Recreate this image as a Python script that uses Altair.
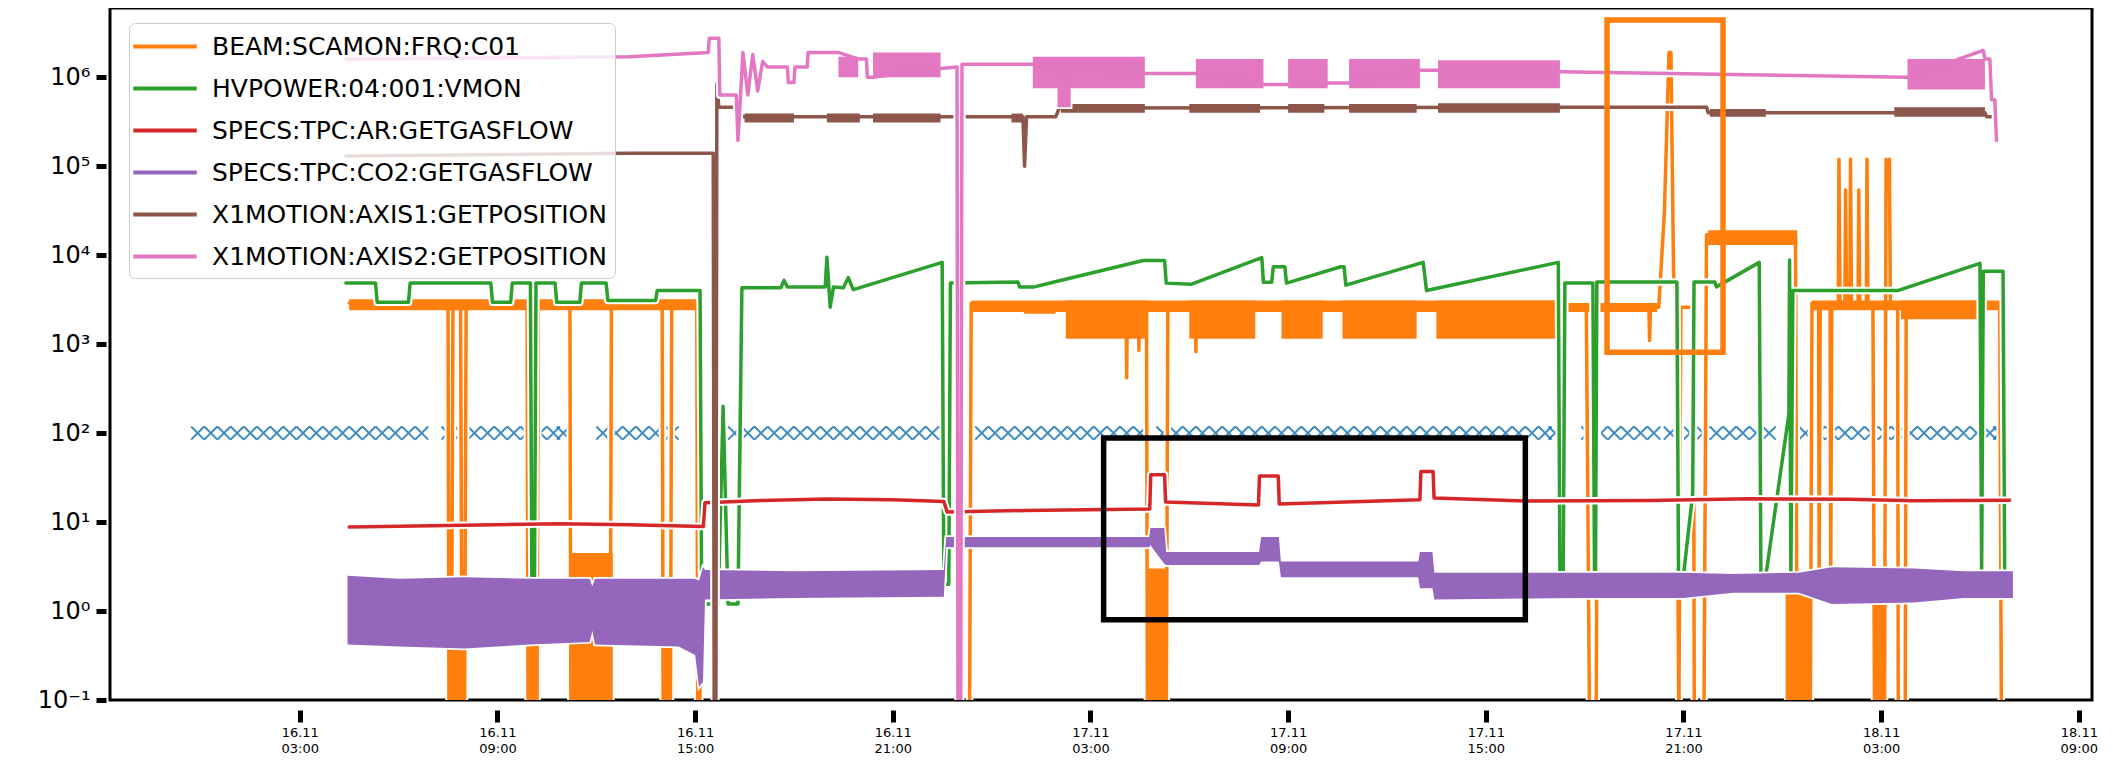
import json
import altair as alt
import pandas as pd

# ---------------- data (x = hours since 16.11 00:00, y = value) ----------------
SERIES = ["BEAM:SCAMON:FRQ:C01", "HVPOWER:04:001:VMON", "SPECS:TPC:AR:GETGASFLOW",
          "SPECS:TPC:CO2:GETGASFLOW", "X1MOTION:AXIS1:GETPOSITION", "X1MOTION:AXIS2:GETPOSITION"]
COLORS = ["#ff7f0e", "#2ca02c", "#d62728", "#9467bd", "#8c564b", "#e377c2"]

X_TICKS = [3, 9, 15, 21, 27, 33, 39, 45, 51, 57]
Y_TICKS = [0.1, 1, 10, 100, 1e3, 1e4, 1e5, 1e6]
Y_LABELS = ["10⁻¹", "10⁰", "10¹", "10²", "10³", "10⁴", "10⁵", "10⁶"]

MARKER_T = [-0.1, 0.3, 0.7, 1.1, 1.5, 1.9, 2.3, 2.7, 3.1, 3.5, 3.9, 4.3, 4.7, 5.1, 5.5, 5.9, 6.3, 6.7,
            7.5, 7.9, 8.3, 8.7, 9.1, 9.5, 9.9, 10.3, 10.7, 11.0,
            12.2, 12.6, 13.0, 13.4, 13.8, 14.3,
            16.2, 16.6, 17.0, 17.4, 17.8, 18.2, 18.6,
            19.0, 19.4, 19.8, 20.2, 20.6, 21.0, 21.4, 21.8, 22.2, 22.6,
            23.7, 24.1, 24.5, 24.9, 25.3, 25.7, 26.1, 26.5, 26.9, 27.3, 27.7, 28.1, 28.5,
            29.2, 29.6, 30.0, 30.4, 30.8, 31.2, 31.6, 32.0, 32.4, 32.8, 33.2, 33.6, 34.0, 34.4,
            34.8, 35.2, 35.6, 36.0, 36.4, 36.8, 37.2, 37.6, 38.0, 38.4, 38.8, 39.2, 39.6, 40.0,
            40.4, 40.8, 41.1,
            42.1, 42.5, 42.9, 43.3, 43.7, 44.1, 44.6,
            45.2, 45.6, 46.0, 46.4, 46.8, 47.2, 47.6,
            48.7, 49.1, 49.5, 49.9, 50.3, 50.7, 51.1, 51.5, 51.9, 52.3, 52.7, 53.1, 53.5, 53.9,
            54.3, 54.6]
MARKER_V = 100

ORANGE_A = [(4.5, 2900), (7.5, 2900), (7.53, 0.05), (7.6, 0.05), (7.65, 2900), (7.88, 2900),
            (7.93, 0.05), (8.0, 0.05), (8.05, 2900), (9.9, 2900), (9.93, 0.05), (10.2, 0.05),
            (10.24, 2900), (11.2, 2900), (11.23, 0.05), (12.42, 0.05), (12.46, 2900), (14.0, 2900),
            (14.03, 0.05), (14.25, 0.05), (14.29, 2900), (15.05, 2900), (15.08, 0.05), (15.2, 0.05)]
ORANGE_B = [(23.33, 0.05), (23.38, 2900), (25.0, 2900), (25.02, 2300), (25.9, 2300), (25.92, 2900),
            (28.08, 2900), (28.1, 420), (28.12, 2900), (28.45, 2900), (28.47, 850), (28.49, 2900),
            (28.7, 2900), (28.73, 0.05), (29.3, 0.05), (29.35, 2900), (30.18, 2900), (30.2, 820),
            (30.22, 2900), (41.1, 2900)]
ORANGE_C = [(41.5, 2700), (42.05, 2700), (42.15, 0.05), (42.35, 0.05), (42.4, 2600), (43.95, 2600),
            (43.97, 1100), (44.0, 2600), (44.25, 2600), (44.42, 3e4), (44.56, 1.9e6), (44.62, 1.9e6),
            (44.7, 6000), (44.78, 2600), (44.86, 0.05), (44.92, 2600), (45.3, 2600), (45.33, 0.05),
            (45.62, 0.05), (45.7, 1.7e4), (48.4, 1.7e4), (48.45, 0.05), (48.85, 0.05), (48.9, 2900),
            (49.1, 2900), (49.12, 2.5), (49.15, 2900), (49.45, 2900), (49.47, 2.5), (49.5, 2900),
            (49.7, 2900), (49.72, 1.2e5), (49.75, 2900), (49.9, 2900), (49.92, 5.4e4), (49.95, 2900),
            (50.05, 2900), (50.07, 1.2e5), (50.1, 2900), (50.3, 2900), (50.32, 5.4e4), (50.35, 2900),
            (50.55, 2900), (50.57, 1.2e5), (50.6, 2900), (50.75, 2900), (50.8, 0.05), (51.1, 0.05),
            (51.15, 1.2e5), (51.2, 5.4e4), (51.25, 1.2e5), (51.28, 2900), (51.5, 2900), (51.52, 0.05),
            (51.73, 0.05), (51.76, 2900), (54.6, 2900), (54.65, 0.05)]
ORANGE_BANDS = [(4.5, 15.05, 2400, 3200), (7.55, 7.95, 0.05, 0.5), (9.93, 10.2, 0.05, 0.5),
                (11.2, 12.5, 0.05, 4.5), (14.03, 14.25, 0.05, 0.5), (15.08, 15.2, 0.05, 0.3),
                (23.4, 41.1, 2300, 3100), (26.25, 28.75, 1150, 3100), (28.75, 29.32, 0.05, 3.0),
                (30.0, 32.0, 1150, 3100), (32.8, 34.05, 1150, 3100), (34.65, 36.9, 1150, 3100),
                (37.5, 41.1, 1150, 3100), (41.5, 44.2, 2300, 2900), (45.75, 48.45, 1.3e4, 1.9e4),
                (48.1, 48.9, 0.05, 2.5), (48.9, 54.6, 2400, 3100), (51.6, 53.9, 1900, 3100),
                (50.8, 51.15, 0.05, 2.5)]

GREEN = [(4.4, 4850), (5.3, 4850), (5.35, 2950), (6.3, 2950), (6.35, 4850), (8.8, 4850), (8.85, 2950),
         (9.4, 2950), (9.45, 4850), (10.0, 4850), (10.05, 1.0), (10.12, 1.0), (10.17, 4850),
         (10.75, 4850), (10.8, 2950), (11.5, 2950), (11.55, 4850), (12.3, 4850), (12.35, 3100),
         (13.8, 3100), (13.85, 4000), (15.15, 4000), (15.2, 1.2), (15.7, 1.2), (15.85, 200),
         (16.0, 1.2), (16.3, 1.2), (16.42, 4300), (17.6, 4300), (17.7, 5200), (17.8, 4400),
         (18.95, 4400), (19.0, 9500), (19.1, 2600), (19.2, 4400), (19.5, 4300), (19.65, 5600),
         (19.8, 4100), (22.5, 8300), (22.55, 2.0), (22.7, 2.0), (22.75, 4850), (24.8, 5000),
         (24.85, 4400), (25.3, 4400), (25.9, 5000), (28.6, 8700), (29.25, 8700), (29.3, 4850),
         (30.05, 4700), (32.2, 9400), (32.25, 4950), (32.5, 4950), (32.55, 7400), (32.9, 7400),
         (32.95, 4850), (34.6, 7400), (34.7, 7400), (34.75, 4600), (37.1, 8300), (37.2, 4000),
         (41.2, 8300), (41.25, 2.5), (41.35, 2.5), (41.4, 4850), (42.25, 4850), (42.3, 2.5),
         (42.33, 2.5), (42.37, 5000), (44.8, 5000), (44.85, 2.5), (45.0, 2.5), (45.28, 21),
         (45.32, 5000), (45.95, 5000), (46.0, 4400), (47.3, 8300), (47.35, 2.5), (47.5, 2.5),
         (48.2, 165), (48.22, 8800), (48.26, 2.5), (48.32, 4000), (51.5, 4000), (54.0, 8100),
         (54.05, 2.5), (54.1, 6600), (54.7, 6600), (54.75, 2.5)]

RED = [(4.5, 8.8), (7.0, 9.1), (10.9, 9.6), (13.0, 9.3), (15.25, 8.9), (15.3, 16.5), (17.0, 17.5),
       (19.0, 18.2), (21.0, 17.8), (22.55, 17.0), (22.65, 13.0), (25.0, 13.5), (28.8, 14.0),
       (28.83, 34), (29.25, 34), (29.28, 16.8), (32.1, 15.6), (32.13, 33), (32.7, 33), (32.73, 16.0),
       (37.0, 17.8), (37.03, 37), (37.4, 37), (37.43, 18.6), (40.2, 17.2), (44.0, 17.5),
       (47.0, 18.3), (50.0, 18.0), (52.0, 17.4), (54.9, 17.6)]

PURPLE_T = [4.45, 6.0, 8.0, 10.0, 11.8, 11.88, 11.96, 14.5, 15.0, 15.12, 15.24, 15.3, 18.0, 22.55,
            22.62, 28.78, 28.82, 29.24, 29.3, 32.12, 32.18, 32.72, 32.78, 36.95, 37.0, 37.38, 37.44,
            42.0, 45.0, 46.5, 48.5, 49.5, 52.0, 53.5, 55.0]
PURPLE_LO = [0.42, 0.40, 0.38, 0.42, 0.45, 0.6, 0.42, 0.40, 0.32, 0.14, 0.16, 1.35, 1.4, 1.45,
             5.2, 5.2, 5.5, 3.4, 3.3, 3.3, 3.6, 3.6, 2.4, 2.4, 1.8, 1.8, 1.35,
             1.4, 1.4, 1.6, 1.6, 1.2, 1.25, 1.4, 1.4]
PURPLE_HI = [2.5, 2.3, 2.4, 2.3, 2.3, 1.9, 2.3, 2.3, 2.3, 2.2, 3.1, 2.9, 2.8, 2.9,
             6.8, 6.8, 8.6, 8.6, 4.6, 4.6, 6.8, 6.8, 3.6, 3.6, 4.6, 4.6, 2.7,
             2.7, 2.7, 2.6, 2.7, 3.1, 3.0, 2.8, 2.8]

BROWN = [(4.4, 1.3e5), (13.0, 1.4e5), (15.55, 1.4e5), (15.58, 0.05), (15.63, 0.05), (15.66, 8.5e5),
         (15.72, 4.6e5), (16.25, 4.6e5), (16.45, 3.6e5), (24.95, 3.6e5), (25.0, 1.0e5), (25.06, 3.6e5),
         (25.95, 3.6e5), (26.05, 4.5e5), (41.25, 4.6e5), (45.7, 4.6e5), (45.75, 4.0e5), (54.15, 4.0e5),
         (54.2, 3.6e5), (54.35, 3.6e5)]
BROWN_BANDS = [(16.5, 18.0, 3.1e5, 3.9e5), (19.0, 20.0, 3.1e5, 3.9e5), (20.4, 22.45, 3.1e5, 3.9e5),
               (24.6, 24.95, 3.1e5, 3.9e5), (26.1, 28.65, 4.0e5, 5.0e5), (30.0, 32.15, 4.0e5, 5.0e5),
               (33.0, 34.1, 4.0e5, 5.0e5), (34.85, 36.9, 4.0e5, 5.0e5), (37.55, 41.25, 4.0e5, 5.1e5),
               (45.8, 47.5, 3.6e5, 4.4e5), (51.4, 54.15, 3.6e5, 4.6e5)]

PINK = [(4.4, 1.6e6), (13.0, 1.7e6), (15.4, 1.9e6), (15.43, 2.75e6), (15.72, 2.75e6), (15.75, 6.3e5),
        (16.25, 6.3e5), (16.3, 1.95e5), (16.38, 6.3e5), (16.45, 1.9e6), (16.6, 6.3e5), (16.75, 1.8e6),
        (16.9, 7e5), (17.05, 1.5e6), (17.2, 1.3e6), (17.8, 1.3e6), (17.83, 8.7e5), (18.0, 8.7e5),
        (18.03, 1.3e6), (18.4, 1.3e6), (18.43, 1.9e6), (19.35, 1.9e6), (19.95, 1.6e6), (20.2, 1.6e6),
        (20.23, 1.0e6), (20.4, 1.0e6), (22.45, 1.25e6), (22.95, 1.3e6), (22.98, 0.05), (23.06, 0.05),
        (23.1, 1.4e6), (25.25, 1.4e6), (28.65, 1.1e6), (30.2, 1.1e6), (32.25, 8.3e5), (33.0, 8.3e5),
        (34.2, 8.6e5), (34.85, 8.6e5), (37.0, 1.2e6), (37.55, 1.2e6), (41.25, 1.15e6), (51.8, 1.0e6),
        (54.1, 2.0e6), (54.15, 1.6e6), (54.3, 1.6e6), (54.35, 5.6e5), (54.45, 5.6e5), (54.5, 1.95e5)]
PINK_BANDS = [(19.35, 19.95, 1.0e6, 1.7e6), (20.4, 22.45, 1.0e6, 1.9e6), (25.25, 28.65, 7.5e5, 1.7e6),
              (26.0, 26.4, 4.6e5, 1.0e6), (30.2, 32.25, 7.5e5, 1.6e6), (33.0, 34.2, 7.5e5, 1.6e6),
              (34.85, 37.0, 7.5e5, 1.6e6), (37.55, 41.25, 7.5e5, 1.55e6), (51.8, 54.15, 7.3e5, 1.6e6)]

BOX_T0 = [27.4, 42.68]
BOX_T1 = [40.2, 46.2]
BOX_LO = [0.8, 810]
BOX_HI = [88, 4.4e6]
BOX_COLOR = ["black", "#ff7f0e"]

# ---------------- scales / axes ----------------
XSCALE = alt.Scale(domain=[-2.76, 57.4], nice=False, zero=False)
YSCALE = alt.Scale(type="log", domain=[0.1, 6e6], nice=False)
XLABEL_EXPR = ("[(16 + floor(datum.value / 24)) + '.11', "
               "(datum.value % 24 < 10 ? '0' : '') + (datum.value % 24) + ':00']")
YLABEL_EXPR = json.dumps(Y_LABELS, ensure_ascii=False) + "[round(log(datum.value) / LN10) + 1]"

XAXIS = alt.Axis(values=X_TICKS, labelExpr=XLABEL_EXPR, domain=False, grid=False, tickSize=12,
                 tickWidth=5, tickColor="black", offset=10, labelFont="DejaVu Sans",
                 labelFontSize=13, labelLineHeight=16, labelPadding=4, labelColor="black", title=None)
YAXIS = alt.Axis(values=Y_TICKS, labelExpr=YLABEL_EXPR, domain=False, grid=False, tickSize=10,
                 tickWidth=5, tickColor="black", offset=4, labelFont="DejaVu Sans", labelFontSize=24,
                 labelPadding=6, labelColor="black", title=None)
COLOR_SCALE = alt.Scale(domain=SERIES, range=COLORS)
LEGEND = alt.Legend(title=None, orient="none", legendX=19, legendY=15, symbolType="M-1,0L3.8,0",
                    symbolSize=700, symbolStrokeWidth=4, symbolOffset=-6, labelFont="DejaVu Sans",
                    labelFontSize=25, labelOffset=50, rowPadding=13, padding=8,
                    fillColor="rgba(255,255,255,0.8)", strokeColor="#cccccc", cornerRadius=6,
                    labelLimit=700, labelColor="black")


def line_df(name, segments):
    rows, i = [], 0
    for s, seg in enumerate(segments):
        for t, v in seg:
            rows.append({"series": name, "seg": s, "i": i, "t": t, "v": v})
            i += 1
    return pd.DataFrame(rows)


def band_df(bands):
    return pd.DataFrame(bands, columns=["t0", "t1", "lo", "hi"])


def xy():
    return dict(x=alt.X("t:Q", scale=XSCALE, axis=XAXIS), y=alt.Y("v:Q", scale=YSCALE, axis=YAXIS))


def xy_band():
    return dict(x=alt.X("t0:Q", scale=XSCALE, axis=XAXIS), x2="t1",
                y=alt.Y("lo:Q", scale=YSCALE, axis=YAXIS), y2="hi")


def series_layers(name, segments, bands, color):
    df = line_df(name, segments)
    out = [alt.Chart(df).mark_line(color="white", strokeWidth=7.5, clip=True, strokeCap="round",
                                   strokeJoin="round").encode(detail="seg:N", order="i:Q", **xy())]
    if bands:
        bdf = band_df(bands)
        out.append(alt.Chart(bdf).mark_rect(color="white", stroke="white", strokeWidth=3.5, clip=True)
                   .encode(**xy_band()))
        out.append(alt.Chart(bdf).mark_rect(color=color, clip=True).encode(**xy_band()))
    out.append(alt.Chart(df).mark_line(strokeWidth=3.5, clip=True, strokeCap="round", strokeJoin="round")
               .encode(color=alt.Color("series:N", scale=COLOR_SCALE, legend=LEGEND),
                       detail="seg:N", order="i:Q", **xy()))
    return out


layers = []
markers = pd.DataFrame({"t": MARKER_T, "v": [MARKER_V] * len(MARKER_T)})
layers.append(alt.Chart(markers).mark_point(shape="M-1,-1L1,1M1,-1L-1,1", filled=False, strokeWidth=2,
                                            size=170, color="#1f77b4", opacity=0.85, clip=True)
              .encode(**xy()))
layers += series_layers(SERIES[0], [ORANGE_A, ORANGE_B, ORANGE_C], ORANGE_BANDS, COLORS[0])
layers += series_layers(SERIES[1], [GREEN], None, COLORS[1])
layers += series_layers(SERIES[2], [RED], None, COLORS[2])

purple = pd.DataFrame({"t": PURPLE_T, "lo": PURPLE_LO, "hi": PURPLE_HI})
pxy = dict(x=alt.X("t:Q", scale=XSCALE, axis=XAXIS), y=alt.Y("lo:Q", scale=YSCALE, axis=YAXIS), y2="hi")
layers.append(alt.Chart(purple).mark_area(color="white", stroke="white", strokeWidth=3.5, clip=True)
              .encode(**pxy))
layers.append(alt.Chart(purple).mark_area(color=COLORS[3], clip=True).encode(**pxy))

layers += series_layers(SERIES[4], [BROWN], BROWN_BANDS, COLORS[4])
layers += series_layers(SERIES[5], [PINK], PINK_BANDS, COLORS[5])

boxes = pd.DataFrame({"t0": BOX_T0, "t1": BOX_T1, "lo": BOX_LO, "hi": BOX_HI, "c": BOX_COLOR})
layers.append(alt.Chart(boxes).mark_rect(filled=False, strokeWidth=5.5)
              .encode(stroke=alt.Color("c:N", scale=None), **xy_band()))

chart = (alt.layer(*layers)
         .properties(width=1982, height=692,
                     padding={"left": 29, "top": 0, "right": 5, "bottom": 0})
         .configure_view(stroke="black", strokeWidth=3))

chart.save("out.html", embed_options={"renderer": "svg", "actions": False})
